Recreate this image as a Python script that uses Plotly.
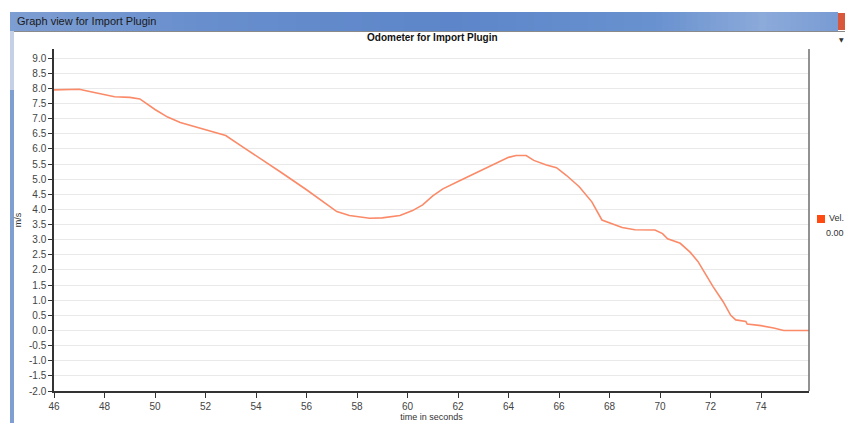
import plotly.graph_objects as go

# Velocity trace of the odometer import (time in s, speed in m/s)
time_s = [46.0, 46.5, 47.0, 47.5, 48.0, 48.4, 49.0, 49.4, 50.0, 50.5, 51.0, 51.5,
          52.0, 52.5, 52.8, 53.5, 54.0, 55.0, 56.0, 56.5, 57.2, 57.7, 58.5, 59.0,
          59.7, 60.2, 60.6, 61.0, 61.4, 62.0, 62.5, 63.0, 63.5, 64.0, 64.3, 64.7,
          65.0, 65.5, 65.9, 66.3, 66.8, 67.3, 67.7, 68.0, 68.5, 69.0, 69.8, 70.1,
          70.3, 70.8, 71.2, 71.5, 72.1, 72.5, 72.8, 73.0, 73.4, 73.45, 74.0, 74.5,
          74.9, 75.9]
velocity = [7.95, 7.96, 7.97, 7.88, 7.80, 7.72, 7.70, 7.65, 7.30, 7.05, 6.87, 6.75,
            6.65, 6.52, 6.44, 6.05, 5.78, 5.22, 4.65, 4.35, 3.93, 3.80, 3.71, 3.72,
            3.80, 3.96, 4.15, 4.45, 4.68, 4.92, 5.12, 5.32, 5.52, 5.72, 5.78, 5.78,
            5.62, 5.47, 5.38, 5.12, 4.75, 4.25, 3.65, 3.55, 3.40, 3.33, 3.32, 3.20,
            3.03, 2.88, 2.58, 2.28, 1.45, 0.95, 0.50, 0.35, 0.30, 0.21, 0.16, 0.08,
            0.0, 0.0]

x_ticks = list(range(46, 76, 2))
y_ticks = [v / 2 for v in range(-4, 19)]
y_tick_text = [f"{v:.1f}" for v in y_ticks]

W, H = 845, 423
L, R, T, B = 54, 809, 49, 391  # plot area in pixels


def px(x):
    return (x - L) / (R - L)


def py(y):
    return (B - y) / (B - T)


fig = go.Figure()
fig.add_trace(go.Scatter(x=time_s, y=velocity, mode="lines",
                         line=dict(color="#fb8a68", width=1.6),
                         name="Vel.", showlegend=False, hoverinfo="x+y"))

shapes = []
# window title bar: a soft horizontal blue gradient built from thin strips
stops = [(10, (125, 158, 210)), (200, (104, 142, 205)), (450, (92, 134, 201)),
         (650, (104, 145, 207)), (760, (140, 170, 218)), (838, (120, 155, 212))]
step = 6
for i in range(len(stops) - 1):
    (xa, ca), (xb, cb) = stops[i], stops[i + 1]
    x = xa
    while x < xb:
        f = (x - xa) / (xb - xa)
        c = tuple(round(ca[k] + (cb[k] - ca[k]) * f) for k in range(3))
        shapes.append(dict(type="rect", xref="paper", yref="paper",
                           x0=px(x), x1=px(min(x + step + 0.5, xb)), y0=py(31), y1=py(12),
                           fillcolor="rgb(%d,%d,%d)" % c, line=dict(width=0), layer="below"))
        x += step
# close button
shapes.append(dict(type="rect", xref="paper", yref="paper",
                   x0=px(838), x1=px(846), y0=py(30), y1=py(13),
                   fillcolor="#d9583b", line=dict(width=0)))
# separator under title bar
shapes.append(dict(type="line", xref="paper", yref="paper",
                   x0=px(10), x1=px(845), y0=py(31.5), y1=py(31.5),
                   line=dict(color="#8a8a8a", width=1)))
# left window frame
shapes.append(dict(type="rect", xref="paper", yref="paper",
                   x0=px(10), x1=px(14), y0=py(90), y1=py(31),
                   fillcolor="#c3d0e6", line=dict(width=0)))
shapes.append(dict(type="rect", xref="paper", yref="paper",
                   x0=px(10), x1=px(14), y0=py(423), y1=py(90),
                   fillcolor="#7f9fd0", line=dict(width=0)))
# right plot border
shapes.append(dict(type="line", xref="paper", yref="paper",
                   x0=1, x1=1, y0=0, y1=1,
                   line=dict(color="#6e6e6e", width=1.5)))
# legend swatch
shapes.append(dict(type="rect", xref="paper", yref="paper",
                   x0=px(817), x1=px(825), y0=py(223), y1=py(215),
                   fillcolor="#ff4a12", line=dict(width=0)))

annotations = [
    dict(text="Graph view for Import Plugin", xref="paper", yref="paper",
         x=px(15), y=py(21.5), xanchor="left", yanchor="middle", showarrow=False,
         font=dict(family="Liberation Sans, Arial", size=11, color="#1a1a1a")),
    dict(text="<b>Odometer for Import Plugin</b>", xref="paper", yref="paper",
         x=px(432), y=py(38), xanchor="center", yanchor="middle", showarrow=False,
         font=dict(family="Liberation Sans, Arial", size=10, color="#111111")),
    dict(text="▼", xref="paper", yref="paper", x=px(842), y=py(39),
         xanchor="center", yanchor="middle", showarrow=False,
         font=dict(family="DejaVu Sans", size=6, color="#333333")),
    dict(text="Vel.", xref="paper", yref="paper", x=px(827), y=py(218),
         xanchor="left", yanchor="middle", showarrow=False,
         font=dict(family="Liberation Sans, Arial", size=9, color="#333333")),
    dict(text="0.00", xref="paper", yref="paper", x=px(824), y=py(233),
         xanchor="left", yanchor="middle", showarrow=False,
         font=dict(family="Liberation Sans, Arial", size=9, color="#333333")),
]

fig.update_layout(
    width=W, height=H,
    margin=dict(l=L, r=W - R, t=T, b=H - B, pad=0, autoexpand=False),
    paper_bgcolor="white", plot_bgcolor="white",
    shapes=shapes, annotations=annotations,
    xaxis=dict(range=[46, 75.9], tickvals=x_ticks, ticktext=[str(v) for v in x_ticks],
               automargin=False,
               showgrid=False, zeroline=False, showline=True, linecolor="#333333",
               linewidth=1.5, ticks="outside", ticklen=5, tickcolor="#333333",
               tickfont=dict(family="Liberation Sans, Arial", size=10, color="#444444"),
               title=dict(text="time in seconds", standoff=2,
                          font=dict(family="Liberation Sans, Arial", size=9, color="#333333"))),
    yaxis=dict(range=[-2, 9.3], tickvals=y_ticks, ticktext=y_tick_text,
               automargin=False,
               showgrid=True, gridcolor="#e9e9e9", gridwidth=1, zeroline=False,
               showline=True, linecolor="#333333", linewidth=1.5,
               ticks="outside", ticklen=4, tickcolor="#333333",
               tickfont=dict(family="Liberation Sans, Arial", size=10, color="#444444"),
               title=dict(text="m/s", standoff=6,
                          font=dict(family="Liberation Sans, Arial", size=9, color="#333333"))),
)

fig.write_html("out.html")
